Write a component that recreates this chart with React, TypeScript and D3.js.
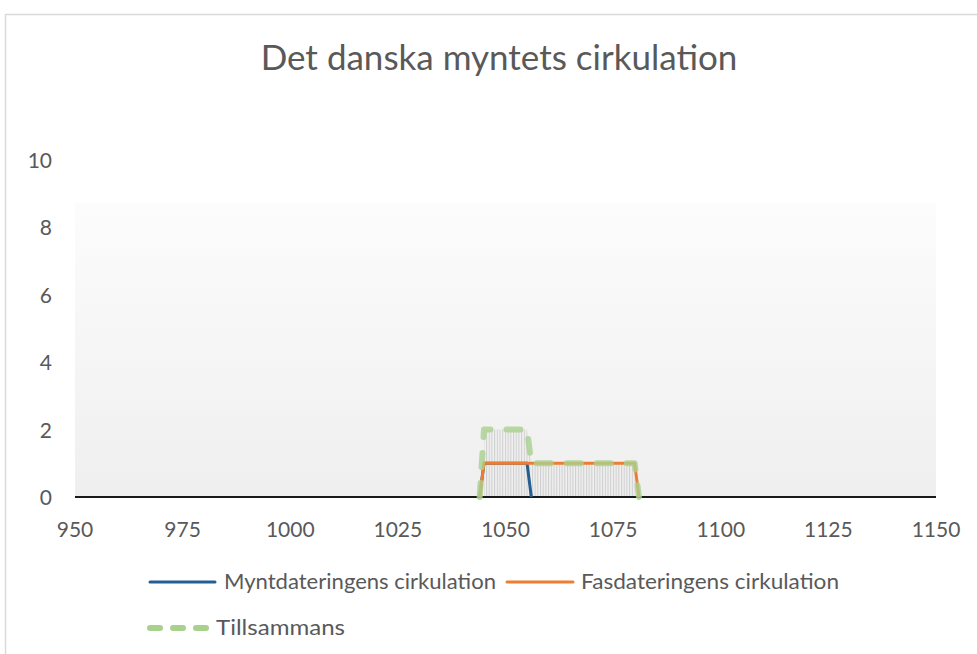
import React from 'react';
import * as d3 from 'd3';

// data
const years = [
  1044, 1045, 1046, 1047, 1048, 1049, 1050, 1051, 1052, 1053, 1054, 1055, 1056,
  1057, 1058, 1059, 1060, 1061, 1062, 1063, 1064, 1065, 1066, 1067, 1068, 1069,
  1070, 1071, 1072, 1073, 1074, 1075, 1076, 1077, 1078, 1079, 1080, 1081,
];
const mynt = [
  0, 1, 1, 1, 1, 1, 1, 1, 1, 1, 1, 1, 0,
  null, null, null, null, null, null, null, null, null, null, null, null, null,
  null, null, null, null, null, null, null, null, null, null, null, null,
];
const fas = [
  0, 1, 1, 1, 1, 1, 1, 1, 1, 1, 1, 1, 1,
  1, 1, 1, 1, 1, 1, 1, 1, 1, 1, 1, 1, 1,
  1, 1, 1, 1, 1, 1, 1, 1, 1, 1, 1, 0,
];
const tillsammans = [
  0, 2, 2, 2, 2, 2, 2, 2, 2, 2, 2, 2, 1,
  1, 1, 1, 1, 1, 1, 1, 1, 1, 1, 1, 1, 1,
  1, 1, 1, 1, 1, 1, 1, 1, 1, 1, 1, 0,
];
const xTicks = [950, 975, 1000, 1025, 1050, 1075, 1100, 1125, 1150];
const yTicks = [0, 2, 4, 6, 8, 10];
const seriesNames = ['Myntdateringens cirkulation', 'Fasdateringens cirkulation', 'Tillsammans'];

const W = 977;
const H = 654;
const FONT = 'Lato, "Open Sans", sans-serif';
const TXT = '#595959';

type Pt = { x: number; y: number | null };

const toPts = (vals: (number | null)[]): Pt[] => years.map((x, i) => ({ x, y: vals[i] }));

export default function App() {
  const x = d3.scaleLinear().domain([950, 1150]).range([75, 936]);
  const y = d3.scaleLinear().domain([0, 10]).range([497, 160]);

  const line = d3
    .line<Pt>()
    .defined((d) => d.y !== null)
    .x((d) => x(d.x))
    .y((d) => y(d.y as number));

  const area = d3
    .area<Pt>()
    .defined((d) => d.y !== null && d.y > 0)
    .x((d) => x(d.x))
    .y0(y(0))
    .y1((d) => y(d.y as number));

  const green = '#A9D18E';
  const blue = '#255E91';
  const orange = '#ED7D31';

  return (
    <svg
      width={W}
      height={H}
      style={{ position: 'absolute', left: 0, top: 0, background: '#fff' }}
    >
      <defs>
        <linearGradient id="plotBg" x1="0" y1="0" x2="0" y2="1">
          <stop offset="0" stopColor="#ffffff" />
          <stop offset="0.125" stopColor="#ffffff" />
          <stop offset="0.13" stopColor="#fcfcfc" />
          <stop offset="1" stopColor="#efefef" />
        </linearGradient>
        <pattern id="hatch" patternUnits="userSpaceOnUse" width="2.7" height="10">
          <rect x="0" y="0" width="1.1" height="10" fill="#cfcfcf" />
        </pattern>
      </defs>

      {/* chart border */}
      <rect x={5.5} y={14.5} width={990} height={660} fill="none" stroke="#d9d9d9" strokeWidth={1.5} />

      {/* title */}
      <text x={499} y={70} textAnchor="middle" fontFamily={FONT} fontSize={35} fill={TXT}>
        Det danska myntets cirkulation
      </text>

      {/* plot area */}
      <rect x={x(950)} y={y(10)} width={x(1150) - x(950)} height={y(0) - y(10)} fill="url(#plotBg)" />

      {/* hatch under total */}
      <path d={area(toPts(tillsammans)) || ''} fill="url(#hatch)" />

      {/* y tick labels */}
      {yTicks.map((t) => (
        <text key={t} x={52} y={y(t) + 8} textAnchor="end" fontFamily={FONT} fontSize={21} fill={TXT}>
          {t}
        </text>
      ))}

      {/* x tick labels */}
      {xTicks.map((t) => (
        <text key={t} x={x(t)} y={537} textAnchor="middle" fontFamily={FONT} fontSize={21} fill={TXT}>
          {t}
        </text>
      ))}

      {/* x axis line */}
      <line x1={x(950)} x2={x(1150)} y1={y(0)} y2={y(0)} stroke="#1a1a1a" strokeWidth={2} />

      {/* series */}
      <path d={line(toPts(mynt)) || ''} fill="none" stroke={blue} strokeWidth={3} strokeLinejoin="round" />
      <path d={line(toPts(fas)) || ''} fill="none" stroke={orange} strokeWidth={3} strokeLinejoin="round" />
      <path
        d={line(toPts(tillsammans)) || ''}
        fill="none"
        stroke={green}
        strokeOpacity={0.8}
        strokeWidth={6}
        strokeDasharray="14 16"
        strokeLinecap="round"
        strokeLinejoin="round"
      />

      {/* legend */}
      <line x1={150} x2={215} y1={582} y2={582} stroke={blue} strokeWidth={3} strokeLinecap="round" />
      <text x={224} y={589} fontFamily={FONT} fontSize={21} fill={TXT} textLength={272} lengthAdjust="spacingAndGlyphs">
        {seriesNames[0]}
      </text>
      <line x1={507} x2={573} y1={582} y2={582} stroke={orange} strokeWidth={3} strokeLinecap="round" />
      <text x={581} y={589} fontFamily={FONT} fontSize={21} fill={TXT} textLength={258} lengthAdjust="spacingAndGlyphs">
        {seriesNames[1]}
      </text>
      <line
        x1={150}
        x2={210}
        y1={628}
        y2={628}
        stroke={green}
        strokeWidth={6}
        strokeDasharray="10 13"
        strokeLinecap="round"
      />
      <text x={216} y={635} fontFamily={FONT} fontSize={21} fill={TXT} textLength={129} lengthAdjust="spacingAndGlyphs">
        {seriesNames[2]}
      </text>
    </svg>
  );
}
